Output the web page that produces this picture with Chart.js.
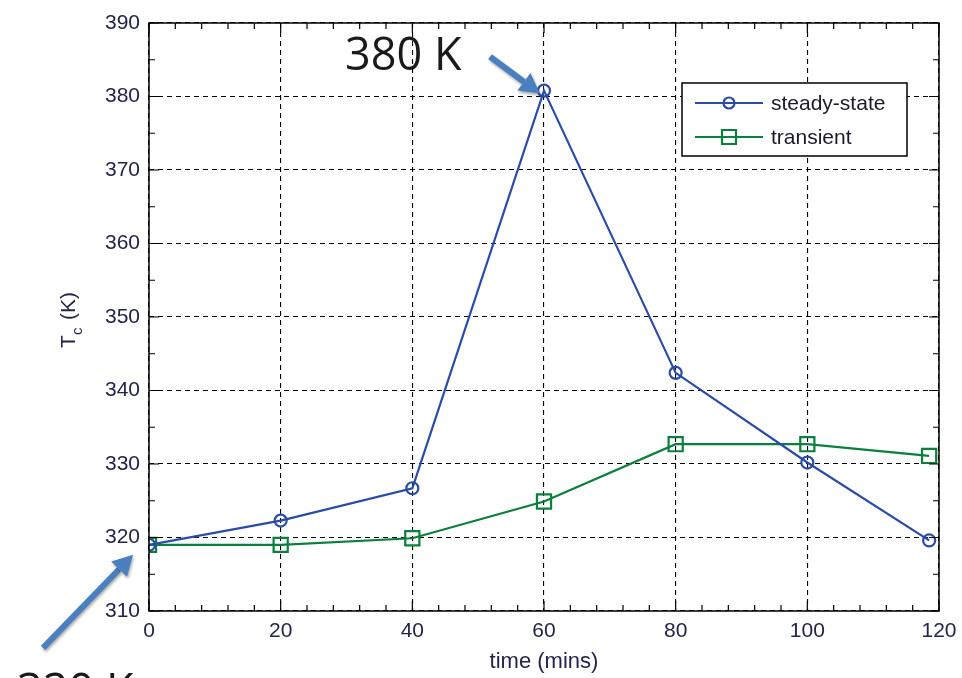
<!DOCTYPE html>
<html><head><meta charset="utf-8">
<script src="https://cdn.jsdelivr.net/npm/chart.js@4.4.1/dist/chart.umd.min.js"></script>
<style>html,body{margin:0;padding:0;background:#fff;}#wrap{width:962px;height:678px;}</style>
</head><body><div id="wrap"><canvas id="c" width="962" height="678"></canvas></div>
<script>
const timeMins = [0, 20, 40, 60, 80, 100, 118.5];
const steadyState = [319.0, 322.3, 326.7, 380.8, 342.4, 330.2, 319.6];
const transient = [319.0, 319.0, 319.9, 324.9, 332.7, 332.7, 331.1];
const xTicks = [0, 20, 40, 60, 80, 100, 120];
const yTicks = [310, 320, 330, 340, 350, 360, 370, 380, 390];
const seriesNames = ['steady-state', 'transient'];
const annotTop = '380 K', annotBottom = '320 K';
const xTitle = 'time (mins)';

const BLUE = '#2b4ca6', GREEN = '#0b7f3c', ARROW = '#4a80c0', LABEL = '#24244a';
const FONT = '"Liberation Sans", Arial, sans-serif';

const pts = (xs, ys) => xs.map((x, i) => ({x, y: ys[i]}));

function arrow(ctx, x1, y1, x2, y2) {
  const ang = Math.atan2(y2 - y1, x2 - x1);
  const headL = 20, headW = 11;
  const bx = x2 - headL * Math.cos(ang), by = y2 - headL * Math.sin(ang);
  ctx.save();
  ctx.shadowColor = 'rgba(0,0,0,0.35)'; ctx.shadowBlur = 3; ctx.shadowOffsetX = 1; ctx.shadowOffsetY = 2;
  ctx.strokeStyle = ARROW; ctx.fillStyle = ARROW; ctx.lineWidth = 6; ctx.lineCap = 'butt';
  ctx.beginPath(); ctx.moveTo(x1, y1); ctx.lineTo(bx, by); ctx.stroke();
  ctx.beginPath();
  ctx.moveTo(x2, y2);
  ctx.lineTo(bx + headW * Math.sin(ang), by - headW * Math.cos(ang));
  ctx.lineTo(bx - headW * Math.sin(ang), by + headW * Math.cos(ang));
  ctx.closePath(); ctx.fill();
  ctx.restore();
}

const frame = {
  id: 'frame',
  afterDatasetsDraw(chart) {
    const {ctx, chartArea: a, scales: {x, y}} = chart;
    ctx.save();
    ctx.strokeStyle = '#000'; ctx.lineWidth = 1.5;
    ctx.strokeRect(a.left, a.top, a.right - a.left, a.bottom - a.top);
    ctx.lineWidth = 1.2;
    ctx.beginPath();
    for (let v = 0; v <= 120; v += 4) {
      const L = (v % 20 === 0) ? 10 : 6, px = x.getPixelForValue(v);
      ctx.moveTo(px, a.bottom); ctx.lineTo(px, a.bottom - L);
      ctx.moveTo(px, a.top); ctx.lineTo(px, a.top + L);
    }
    for (let v = 310; v <= 390; v += 5) {
      const L = (v % 10 === 0) ? 10 : 6, py = y.getPixelForValue(v);
      ctx.moveTo(a.left, py); ctx.lineTo(a.left + L, py);
      ctx.moveTo(a.right, py); ctx.lineTo(a.right - L, py);
    }
    ctx.stroke();

    // legend
    const lx = 682, ly = 83, lw = 225, lh = 73;
    ctx.fillStyle = '#fff'; ctx.fillRect(lx, ly, lw, lh);
    ctx.strokeStyle = '#000'; ctx.lineWidth = 1.5; ctx.strokeRect(lx, ly, lw, lh);
    const cols = [BLUE, GREEN];
    ctx.font = '21px ' + FONT;
    ctx.textBaseline = 'middle';
    seriesNames.forEach((n, i) => {
      const cy = ly + 20 + i * 34;
      ctx.strokeStyle = cols[i]; ctx.lineWidth = 2.2;
      ctx.beginPath(); ctx.moveTo(lx + 13, cy); ctx.lineTo(lx + 81, cy); ctx.stroke();
      ctx.beginPath();
      if (i === 0) ctx.arc(lx + 47, cy, 5.5, 0, Math.PI * 2);
      else ctx.rect(lx + 40, cy - 7, 14, 14);
      ctx.stroke();
      ctx.fillStyle = '#1a1a2a';
      ctx.fillText(n, lx + 89, cy + 1);
    });

    // axis titles
    ctx.fillStyle = LABEL;
    ctx.font = '22px ' + FONT;
    ctx.textAlign = 'center'; ctx.textBaseline = 'alphabetic';
    ctx.fillText(xTitle, (a.left + a.right) / 2, 668);
    ctx.save();
    ctx.translate(75, (a.top + a.bottom) / 2 + 2);
    ctx.rotate(-Math.PI / 2);
    ctx.textAlign = 'left';
    ctx.font = '21px ' + FONT;
    ctx.fillText('T', -29, 0);
    ctx.font = '15px ' + FONT;
    ctx.fillText('c', -16, 7);
    ctx.font = '21px ' + FONT;
    ctx.fillText('(K)', -1, 0);
    ctx.restore();

    // annotations
    const p60 = {x: x.getPixelForValue(timeMins[3]), y: y.getPixelForValue(steadyState[3])};
    const p0 = {x: x.getPixelForValue(timeMins[0]), y: y.getPixelForValue(steadyState[0])};
    arrow(ctx, p60.x - 54, p60.y - 34, p60.x - 4, p60.y + 3);
    arrow(ctx, p0.x - 106, p0.y + 103, p0.x - 16, p0.y + 10);
    ctx.fillStyle = '#1a1a1a';
    ctx.font = '45px "Open Sans", sans-serif';
    ctx.textAlign = 'left'; ctx.textBaseline = 'alphabetic';
    ctx.fillText(annotTop, 345, 70);
    ctx.fillText(annotBottom, 17, 706);
    ctx.restore();
  }
};

new Chart(document.getElementById('c'), {
  type: 'scatter',
  data: {
    datasets: [
      {label: seriesNames[0], data: pts(timeMins, steadyState), showLine: true, borderColor: BLUE, backgroundColor: 'rgba(0,0,0,0)', borderWidth: 2.2, pointStyle: 'circle', pointRadius: 6, pointBorderWidth: 2.2, pointBorderColor: BLUE, pointBackgroundColor: 'rgba(0,0,0,0)'},
      {label: seriesNames[1], data: pts(timeMins, transient), showLine: true, borderColor: GREEN, backgroundColor: 'rgba(0,0,0,0)', borderWidth: 2.2, pointStyle: 'rect', pointRadius: 10, pointBorderWidth: 2.2, pointBorderColor: GREEN, pointBackgroundColor: 'rgba(0,0,0,0)'}
    ]
  },
  options: {
    responsive: false, animation: false, devicePixelRatio: 1,
    layout: {padding: {left: 0, right: 23, top: 23, bottom: 0}},
    plugins: {legend: {display: false}, tooltip: {enabled: false}},
    scales: {
      x: {
        type: 'linear', min: 0, max: 120,
        afterBuildTicks: s => { s.ticks = xTicks.map(v => ({value: v})); },
        afterFit: s => { s.height = 67; s.paddingLeft = 0; s.paddingRight = 0; },
        grid: {color: '#000', lineWidth: 1.1, drawTicks: false, tickLength: 0},
        border: {display: false, dash: [5, 4]},
        ticks: {color: LABEL, font: {family: FONT, size: 21}, padding: 8, maxRotation: 0}
      },
      y: {
        min: 310, max: 390,
        afterBuildTicks: s => { s.ticks = yTicks.map(v => ({value: v})); },
        afterFit: s => { s.width = 149; s.paddingTop = 0; s.paddingBottom = 0; },
        grid: {color: '#000', lineWidth: 1.1, drawTicks: false, tickLength: 0},
        border: {display: false, dash: [5, 4]},
        ticks: {color: LABEL, font: {family: FONT, size: 21}, padding: 9}
      }
    }
  },
  plugins: [frame]
});
</script></body></html>
